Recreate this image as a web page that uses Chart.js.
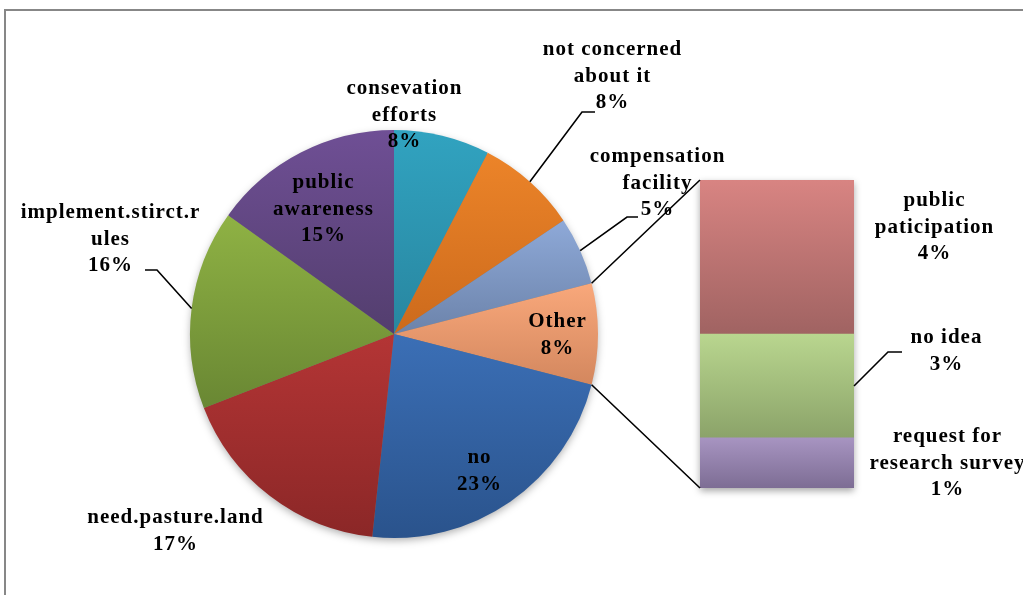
<!DOCTYPE html>
<html>
<head>
<meta charset="utf-8">
<script src="https://cdn.jsdelivr.net/npm/chart.js@4/dist/chart.umd.min.js"></script>
<style>
    html, body { margin: 0; padding: 0; background: #fff; overflow: hidden; }
    #wrap { position: relative; width: 1023px; height: 595px; overflow: hidden; }
    #frame { position: absolute; left: 4px; top: 9px; width: 1100px; height: 700px; border: 2px solid #878787; box-sizing: border-box; }
    canvas { position: absolute; left: 0; top: 0; }
</style>
</head>
<body>
<div id="wrap">
    <div id="frame"></div>
    <canvas id="pieChart" width="1023" height="595"></canvas>
    <canvas id="barChart" width="1023" height="595"></canvas>
</div>
<script>
// pie slices, clockwise from 12 o'clock
var pieLabels = [
    ['consevation', 'efforts'],
    ['not concerned', 'about it'],
    ['compensation', 'facility'],
    ['Other'],
    ['no'],
    ['need.pasture.land'],
    ['implement.stirct.r', 'ules'],
    ['public', 'awareness']
];
var pieValues = [7.6, 8.0, 5.4, 8.0, 22.7, 17.4, 15.8, 15.1];

// the "Other" slice split out into the bar, top to bottom
var barLabels = [
    ['public', 'paticipation'],
    ['no idea'],
    ['request for', 'research survey']
];
var barValues = [4.0, 2.7, 1.3];

var pieColors = [
    ['#31a3c0', '#2886a0'],
    ['#ec8429', '#cc6a1c'],
    ['#8ea9d8', '#6c83aa'],
    ['#f9a87b', '#d3875e'],
    ['#3b6fb6', '#2a538c'],
    ['#b43535', '#8b2727'],
    ['#8fb244', '#698733'],
    ['#6f4f95', '#533e6e']
];
var barColors = [
    ['#d88482', '#a06362'],
    ['#b9d68f', '#8ba369'],
    ['#a794c1', '#7d6d94']
];

// label anchors (centre x, middle of first line); leader = [kneeX, kneeY, endX]
var pieLabelPos = [
    { x: 404, y: 89 },
    { x: 612, y: 50, leader: [582, 112, 595] },
    { x: 657, y: 157, leader: [627, 217, 638] },
    { x: 557, y: 322 },
    { x: 479, y: 458 },
    { x: 175, y: 518 },
    { x: 110, y: 213, leader: [157, 270, 145] },
    { x: 323, y: 183 }
];
var barLabelPos = [
    { x: 934, y: 201 },
    { x: 946, y: 338, leader: [888, 352, 902] },
    { x: 947, y: 437 }
];

var FONT = 'bold 21px "Liberation Serif", "DejaVu Serif", serif';
var LINE_H = 26.5;

function sum(arr) {
    var s = 0;
    for (var i = 0; i < arr.length; i++) s += arr[i];
    return s;
}
var pieTotal = sum(pieValues);

function pct(v) {
    return Math.round(v / pieTotal * 100) + '%';
}

function drawLabel(ctx, lines, pos, value) {
    ctx.save();
    ctx.font = FONT;
    ctx.letterSpacing = '1px';
    ctx.fillStyle = '#000';
    ctx.textAlign = 'center';
    ctx.textBaseline = 'middle';
    var all = lines.concat([pct(value)]);
    for (var i = 0; i < all.length; i++) {
        ctx.fillText(all[i], pos.x + 0.5, pos.y + i * LINE_H);
    }
    ctx.restore();
}

function drawLeader(ctx, fromX, fromY, leader) {
    ctx.save();
    ctx.strokeStyle = '#000';
    ctx.lineWidth = 1.6;
    ctx.beginPath();
    ctx.moveTo(fromX, fromY);
    ctx.lineTo(leader[0], leader[1]);
    ctx.lineTo(leader[2], leader[1]);
    ctx.stroke();
    ctx.restore();
}

function sliceGradient(context) {
    var i = context.dataIndex;
    var chart = context.chart;
    var area = chart.chartArea;
    if (context.type !== 'data' || !area) return pieColors[i || 0][0];
    var cx = (area.left + area.right) / 2;
    var cy = (area.top + area.bottom) / 2;
    var r = Math.min(area.right - area.left, area.bottom - area.top) / 2;
    var before = sum(pieValues.slice(0, i));
    var a0 = -Math.PI / 2 + 2 * Math.PI * before / pieTotal;
    var a1 = a0 + 2 * Math.PI * pieValues[i] / pieTotal;
    var ys = [cy, cy + r * Math.sin(a0), cy + r * Math.sin(a1)];
    if (a0 <= Math.PI / 2 && a1 >= Math.PI / 2) ys.push(cy + r);
    if (a0 <= -Math.PI / 2 + 1e-6 || a1 >= 3 * Math.PI / 2) ys.push(cy - r);
    var top = Math.min.apply(null, ys);
    var bottom = Math.max.apply(null, ys);
    var g = chart.ctx.createLinearGradient(0, top, 0, bottom);
    g.addColorStop(0, pieColors[i][0]);
    g.addColorStop(1, pieColors[i][1]);
    return g;
}

var pieDecor = {
    id: 'pieDecor',
    beforeDatasetsDraw: function (chart) {
        var arc = chart.getDatasetMeta(0).data[0];
        var ctx = chart.ctx;
        ctx.save();
        ctx.shadowColor = 'rgba(0,0,0,0.35)';
        ctx.shadowBlur = 8;
        ctx.shadowOffsetY = 3;
        ctx.fillStyle = '#777';
        ctx.beginPath();
        ctx.arc(arc.x, arc.y, arc.outerRadius - 1, 0, Math.PI * 2);
        ctx.fill();
        ctx.restore();
    },
    afterDatasetsDraw: function (chart) {
        var ctx = chart.ctx;
        var arcs = chart.getDatasetMeta(0).data;
        for (var i = 0; i < arcs.length; i++) {
            var a = arcs[i];
            var pos = pieLabelPos[i];
            if (pos.leader) {
                var mid = (a.startAngle + a.endAngle) / 2;
                drawLeader(ctx, a.x + a.outerRadius * Math.cos(mid), a.y + a.outerRadius * Math.sin(mid), pos.leader);
            }
            drawLabel(ctx, pieLabels[i], pos, pieValues[i]);
        }
    }
};

var pieChart = new Chart(document.getElementById('pieChart'), {
    type: 'pie',
    data: {
        labels: pieLabels,
        datasets: [{
            data: pieValues,
            backgroundColor: sliceGradient,
            borderWidth: 0
        }]
    },
    options: {
        responsive: false,
        animation: false,
        layout: { padding: { left: 190, right: 425, top: 130, bottom: 57 } },
        plugins: { legend: { display: false }, tooltip: { enabled: false } }
    },
    plugins: [pieDecor]
});

// stacked bar: first dataset sits at the bottom, so build it from the end of the list
var barTotal = sum(barValues);
var barDatasets = [];
for (var k = barValues.length - 1; k >= 0; k--) {
    (function (idx) {
        barDatasets.push({
            label: barLabels[idx].join(' '),
            data: [barValues[idx]],
            borderWidth: 0,
            backgroundColor: function (context) {
                var chart = context.chart;
                var y = chart.scales && chart.scales.y;
                if (context.type !== 'data' || !y) return barColors[idx][0];
                var above = sum(barValues.slice(idx + 1));
                var y0 = y.getPixelForValue(above + barValues[idx]);
                var y1 = y.getPixelForValue(above);
                if (!isFinite(y0) || !isFinite(y1)) return barColors[idx][0];
                var g = chart.ctx.createLinearGradient(0, y0, 0, y1);
                g.addColorStop(0, barColors[idx][0]);
                g.addColorStop(1, barColors[idx][1]);
                return g;
            }
        });
    })(k);
}

function barRect(chart, idx) {
    // dataset position of detail item idx
    var meta = chart.getDatasetMeta(barValues.length - 1 - idx);
    return meta.data[0];
}

var barDecor = {
    id: 'barDecor',
    beforeDatasetsDraw: function (chart) {
        var topEl = barRect(chart, 0);
        var botEl = barRect(chart, barValues.length - 1);
        var ctx = chart.ctx;
        ctx.save();
        ctx.shadowColor = 'rgba(0,0,0,0.35)';
        ctx.shadowBlur = 7;
        ctx.shadowOffsetY = 3;
        ctx.fillStyle = '#777';
        ctx.fillRect(topEl.x - topEl.width / 2, topEl.y, topEl.width, botEl.base - topEl.y);
        ctx.restore();
    },
    afterDatasetsDraw: function (chart) {
        var ctx = chart.ctx;
        var topEl = barRect(chart, 0);
        var botEl = barRect(chart, barValues.length - 1);
        var left = topEl.x - topEl.width / 2;

        // lines from the "Other" slice to the bar
        var other = pieChart.getDatasetMeta(0).data[3];
        ctx.save();
        ctx.strokeStyle = '#000';
        ctx.lineWidth = 1.6;
        ctx.beginPath();
        ctx.moveTo(other.x + other.outerRadius * Math.cos(other.startAngle), other.y + other.outerRadius * Math.sin(other.startAngle));
        ctx.lineTo(left, topEl.y);
        ctx.moveTo(other.x + other.outerRadius * Math.cos(other.endAngle), other.y + other.outerRadius * Math.sin(other.endAngle));
        ctx.lineTo(left, botEl.base);
        ctx.stroke();
        ctx.restore();

        for (var i = 0; i < barValues.length; i++) {
            var el = barRect(chart, i);
            var pos = barLabelPos[i];
            if (pos.leader) {
                drawLeader(ctx, el.x + el.width / 2, (el.y + el.base) / 2, pos.leader);
            }
            drawLabel(ctx, barLabels[i], pos, barValues[i]);
        }
    }
};

new Chart(document.getElementById('barChart'), {
    type: 'bar',
    data: { labels: ['Other'], datasets: barDatasets },
    options: {
        responsive: false,
        animation: false,
        layout: { padding: { left: 700, right: 169, top: 180, bottom: 107 } },
        datasets: { bar: { categoryPercentage: 1, barPercentage: 1 } },
        scales: {
            x: { display: false, stacked: true },
            y: { display: false, stacked: true, min: 0, max: barTotal }
        },
        plugins: { legend: { display: false }, tooltip: { enabled: false } }
    },
    plugins: [barDecor]
});
</script>
</body>
</html>
